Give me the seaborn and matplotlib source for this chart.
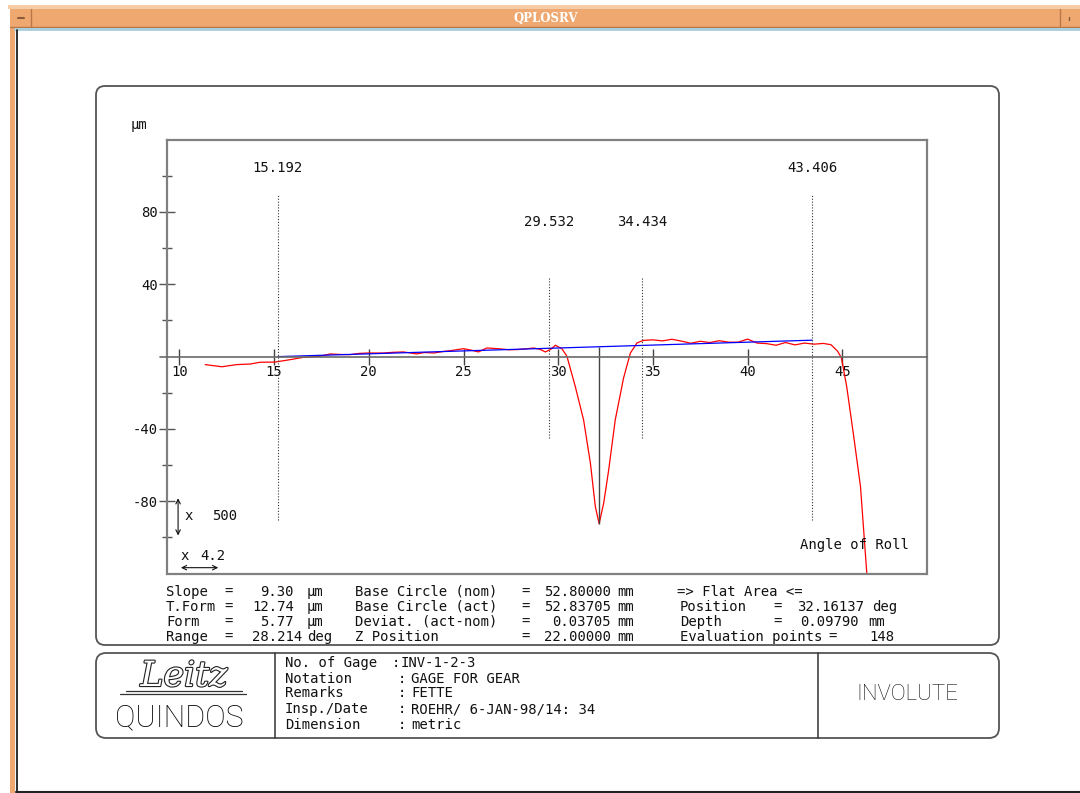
import matplotlib
matplotlib.use("Agg")
import numpy as np
import pandas as pd
import seaborn as sns
import matplotlib.pyplot as plt
from matplotlib.patches import FancyBboxPatch, Rectangle
from matplotlib.lines import Line2D
from matplotlib.transforms import Affine2D
import matplotlib.patheffects as pe

# ---------------- data ----------------
red_x = [11.36, 12.24, 13.03, 13.73, 14.26, 15.05, 15.83, 16.53, 17.43, 17.96,
         18.50, 19.02, 19.50, 19.98, 20.78, 21.30, 21.83, 22.53, 22.95, 23.43,
         23.90, 24.30, 25.00, 25.40, 25.79, 26.23, 26.93, 27.40, 27.83, 28.30,
         28.70, 29.05, 29.32, 29.60, 29.85, 30.20, 30.46, 30.90, 31.34, 31.70,
         31.96, 32.16, 32.40, 32.66, 33.01, 33.45, 33.81, 34.16, 34.51, 35.0,
         35.5, 36.0, 36.5, 37.0, 37.5, 38.0, 38.5, 39.0, 39.5, 40.0,
         40.5, 41.0, 41.5, 42.0, 42.5, 43.0, 43.5, 44.0, 44.4, 44.75,
         44.95, 45.23, 45.60, 45.96, 46.30]
red_y = [-4.4, -5.6, -4.4, -4.1, -3.1, -3.0, -1.7, -0.4, 0.2, 1.5,
         1.2, 1.1, 1.8, 2.0, 2.0, 2.4, 2.6, 1.5, 2.3, 2.0,
         2.8, 3.3, 4.4, 3.6, 2.6, 4.8, 4.3, 3.8, 3.9, 4.3,
         4.8, 4.0, 2.6, 4.0, 6.3, 4.3, 0.2, -16.5, -35.0, -59.0,
         -83.0, -92.4, -81.0, -63.0, -35.0, -11.8, 2.0, 7.6, 9.0, 9.3,
         8.7, 9.6, 8.6, 7.4, 8.5, 7.8, 8.8, 8.0, 8.0, 9.7,
         7.5, 7.2, 6.3, 7.8, 6.5, 7.5, 6.9, 7.3, 6.6, 3.0,
         -0.6, -16.5, -44.0, -72.0, -121.0]
blue_x = [15.192, 43.406]
blue_y = [0.0, 9.1]

outer_marks = [15.192, 43.406]
inner_marks = [29.532, 34.434]
outer_labels = ["15.192", "43.406"]
inner_labels = ["29.532", "34.434"]
flat_pos = 32.16137
flat_top = 5.5
flat_min = -92.4

x_ticks = [10, 15, 20, 25, 30, 35, 40, 45]
y_major = [-80, -40, 40, 80]
y_minor = [-100, -60, -20, 20, 60, 100]

stats_rows = [
    ["Slope", "9.30", "µm", "Base Circle (nom)", "52.80000", "mm"],
    ["T.Form", "12.74", "µm", "Base Circle (act)", "52.83705", "mm"],
    ["Form", "5.77", "µm", "Deviat. (act-nom)", "0.03705", "mm"],
    ["Range", "28.214", "deg", "Z Position", "22.00000", "mm"],
]
flat_rows = [
    ["=> Flat Area <=", "", "", ""],
    ["Position", "=", "32.16137", "deg"],
    ["Depth", "=", "0.09790", "mm"],
    ["Evaluation points", "=", "148", ""],
]
info_labels = ["No. of Gage", "Notation", "Remarks", "Insp./Date", "Dimension"]
info_values = ["INV-1-2-3", "GAGE FOR GEAR", "FETTE", "ROEHR/ 6-JAN-98/14: 34", "metric"]

# ---------------- style ----------------
sns.set_theme(style="white")
plt.rcParams["font.family"] = ["DejaVu Sans Mono", "DejaVu Sans"]
TXT = "#111111"

W, H = 1080, 793
fig = plt.figure(figsize=(W / 100, H / 100), dpi=100)
fig.patch.set_facecolor("white")
PX = Affine2D().scale(1 / 100, -1 / 100).translate(0, H / 100) + fig.dpi_scale_trans

def rect(x0, y0, x1, y1, fc, ec="none", lw=0):
    fig.add_artist(Rectangle((x0, y0), x1 - x0, y1 - y0, transform=PX,
                             facecolor=fc, edgecolor=ec, lw=lw))

def line(xs, ys, color, lw=1.0, **kw):
    fig.add_artist(Line2D(xs, ys, transform=PX, color=color, lw=lw, **kw))

def ftext(x, y, s, **kw):
    kw.setdefault("color", TXT)
    kw.setdefault("fontsize", 10)
    kw.setdefault("va", "center")
    fig.text(x, y, s, transform=PX, **kw)

# window decoration
ORANGE = "#EFA970"
rect(8, 5, 1080, 9, "#F6CCA6")
rect(10, 9, 1080, 27, ORANGE)
rect(10, 9, 15, 793, ORANGE)
line([10, 1080], [27, 27], "#B8764A", 1.0)
line([31, 31], [9, 27], "#B8764A", 1.0)
line([1060, 1060], [9, 27], "#B8764A", 1.0)
line([18, 24], [18, 18], "#8A5A3A", 1.5)
line([1069, 1069], [17, 20], "#8A5A3A", 1.0)
line([15, 1080], [29, 29], "#A6CEDD", 2.0)
line([15.5, 15.5], [29, 792], "#A6CEDD", 1.0)
line([16.8, 16.8], [30, 792], "#222222", 1.3)
line([16, 1080], [792, 792], "#222222", 1.5)
ftext(546, 18, "QPLOSRV", color="white", fontsize=8.5, ha="center",
      family="DejaVu Serif", weight="bold")

# frames
fig.add_artist(FancyBboxPatch((96, 86), 903, 559, transform=PX,
                              boxstyle="round,pad=0,rounding_size=9",
                              facecolor="none", edgecolor="#555555", lw=1.3))
fig.add_artist(FancyBboxPatch((96, 653), 903, 85, transform=PX,
                              boxstyle="round,pad=0,rounding_size=10",
                              facecolor="none", edgecolor="#555555", lw=1.3))
line([275, 275], [653, 738], "#333333", 1.1)
line([818, 818], [653, 738], "#333333", 1.1)

# ---------------- main axes ----------------
ax = fig.add_axes([167 / W, 1 - 574 / H, 760 / W, 434 / H])
ax.set_facecolor("white")

sns.lineplot(x=red_x, y=red_y, ax=ax, color="#ff0000", lw=0.9,
             sort=False, estimator=None)
sns.lineplot(x=blue_x, y=blue_y, ax=ax, color="#0000ff", lw=0.9,
             sort=False, estimator=None)

ax.set_xlim(9.345, 49.47)
ax.set_ylim(-120.2, 119.8)
ax.set_xticks(x_ticks)
ax.set_xticklabels([str(t) for t in x_ticks])
ax.set_yticks(y_major)
ax.set_yticklabels([str(t) for t in y_major])
ax.set_yticks(y_minor, minor=True)
ax.set_xlabel("")
ax.set_ylabel("")

FRAME = "#808080"
for s in ["left", "top", "right"]:
    ax.spines[s].set_color(FRAME)
    ax.spines[s].set_linewidth(1.6)
ax.spines["bottom"].set_position(("data", 0))
ax.spines["bottom"].set_color("#6a6a6a")
ax.spines["bottom"].set_linewidth(1.2)
ax.add_line(Line2D([0, 1], [0, 0], transform=ax.transAxes, color=FRAME,
                   lw=1.6, clip_on=False))
ax.axhline(0, xmin=-0.0095, xmax=0.0, color="#6a6a6a", lw=1.2, clip_on=False)

ax.tick_params(axis="x", bottom=True, direction="inout", length=11.5, width=1.0,
               color="#444444", pad=0.5, labelsize=10, labelcolor=TXT)
ax.tick_params(axis="y", which="major", left=True, direction="inout", length=12.2,
               width=1.0, color="#555555", pad=0.5, labelsize=10, labelcolor=TXT)
ax.tick_params(axis="y", which="minor", left=True, direction="inout", length=6.5,
               width=1.0, color="#555555")
ax.grid(False)

# marker lines
ax.vlines(outer_marks, -90.4, 89.3, colors="#333333", lw=0.8,
          linestyles=(0, (1, 1.6)))
ax.vlines(inner_marks, -45.0, 44.0, colors="#333333", lw=0.8,
          linestyles=(0, (1, 1.6)))
ax.vlines([flat_pos], flat_min, flat_top, colors="#444444", lw=1.0)
for xv, lab in zip(outer_marks, outer_labels):
    ax.text(xv, 104.3, lab, ha="center", va="center", fontsize=10, color=TXT)
for xv, lab in zip(inner_marks, inner_labels):
    ax.text(xv, 74.4, lab, ha="center", va="center", fontsize=10, color=TXT)

# scale indicators
ax.annotate("", xy=(9.93, -98.9), xytext=(9.93, -78.3),
            arrowprops=dict(arrowstyle="<->", lw=0.8, color="#111111",
                            mutation_scale=8, shrinkA=0, shrinkB=0))
ax.text(10.29, -88.2, "x", ha="left", va="center", fontsize=10, color=TXT)
ax.text(11.71, -88.2, "500", ha="left", va="center", fontsize=10, color=TXT)
ax.annotate("", xy=(12.05, -116.7), xytext=(10.08, -116.7),
            arrowprops=dict(arrowstyle="<->", lw=0.8, color="#111111",
                            mutation_scale=8, shrinkA=0, shrinkB=0))
ax.text(10.08, -110.3, "x", ha="left", va="center", fontsize=10, color=TXT)
ax.text(11.09, -110.3, "4.2", ha="left", va="center", fontsize=10, color=TXT)
ax.text(42.77, -104.2, "Angle of Roll", ha="left", va="center", fontsize=10, color=TXT)

ftext(131, 125, "µm", ha="left")

# ---------------- statistics text ----------------
row_y = [591.7, 606.7, 621.7, 636.7]
for r, y in zip(stats_rows, row_y):
    name, val, unit, name2, val2, unit2 = r
    ftext(166, y, name, ha="left")
    ftext(224, y, "=", ha="left")
    if unit == "deg":
        ftext(302, y, val, ha="right")
    else:
        ftext(294, y, val, ha="right")
    ftext(307, y, unit, ha="left")
    ftext(355, y, name2, ha="left")
    ftext(521, y, "=", ha="left")
    ftext(611, y, val2, ha="right")
    ftext(617, y, unit2, ha="left")

flat_val_right = [None, 864, 859, 894]
flat_eq_x = [None, 773, 773, 828]
flat_unit_x = [None, 872, 868, None]
for i, (r, y) in enumerate(zip(flat_rows, row_y)):
    name, eq, val, unit = r
    ftext(680 if i else 677, y, name, ha="left")
    if eq:
        ftext(flat_eq_x[i], y, eq, ha="left")
    if val:
        ftext(flat_val_right[i], y, val, ha="right")
    if unit:
        ftext(flat_unit_x[i], y, unit, ha="left")

# ---------------- title block ----------------
info_y = [662.9, 678.9, 693.2, 709.3, 725.4]
for i, (lab, val, y) in enumerate(zip(info_labels, info_values, info_y)):
    ftext(285, y, lab, ha="left")
    ftext(392 if i == 0 else 398, y, ":", ha="left")
    ftext(401 if i == 0 else 411, y, val, ha="left")

ftext(184, 676, "Leitz", ha="center", fontsize=25, family="DejaVu Serif",
      style="italic", color="white",
      path_effects=[pe.withStroke(linewidth=1.6, foreground="#222222")])
line([126, 242], [690.5, 690.5], "#333333", 0.9)
line([120, 246], [694.3, 694.3], "#333333", 0.9)
ftext(179, 718, "QUINDOS", ha="center", fontsize=22, family=["Roboto", "DejaVu Sans"],
      weight="light", color="#000000")
ftext(907, 695, "INVOLUTE", ha="center", fontsize=16, family=["Roboto", "DejaVu Sans"],
      weight="light", color="#111111")

fig.savefig("out.png", dpi=100)
